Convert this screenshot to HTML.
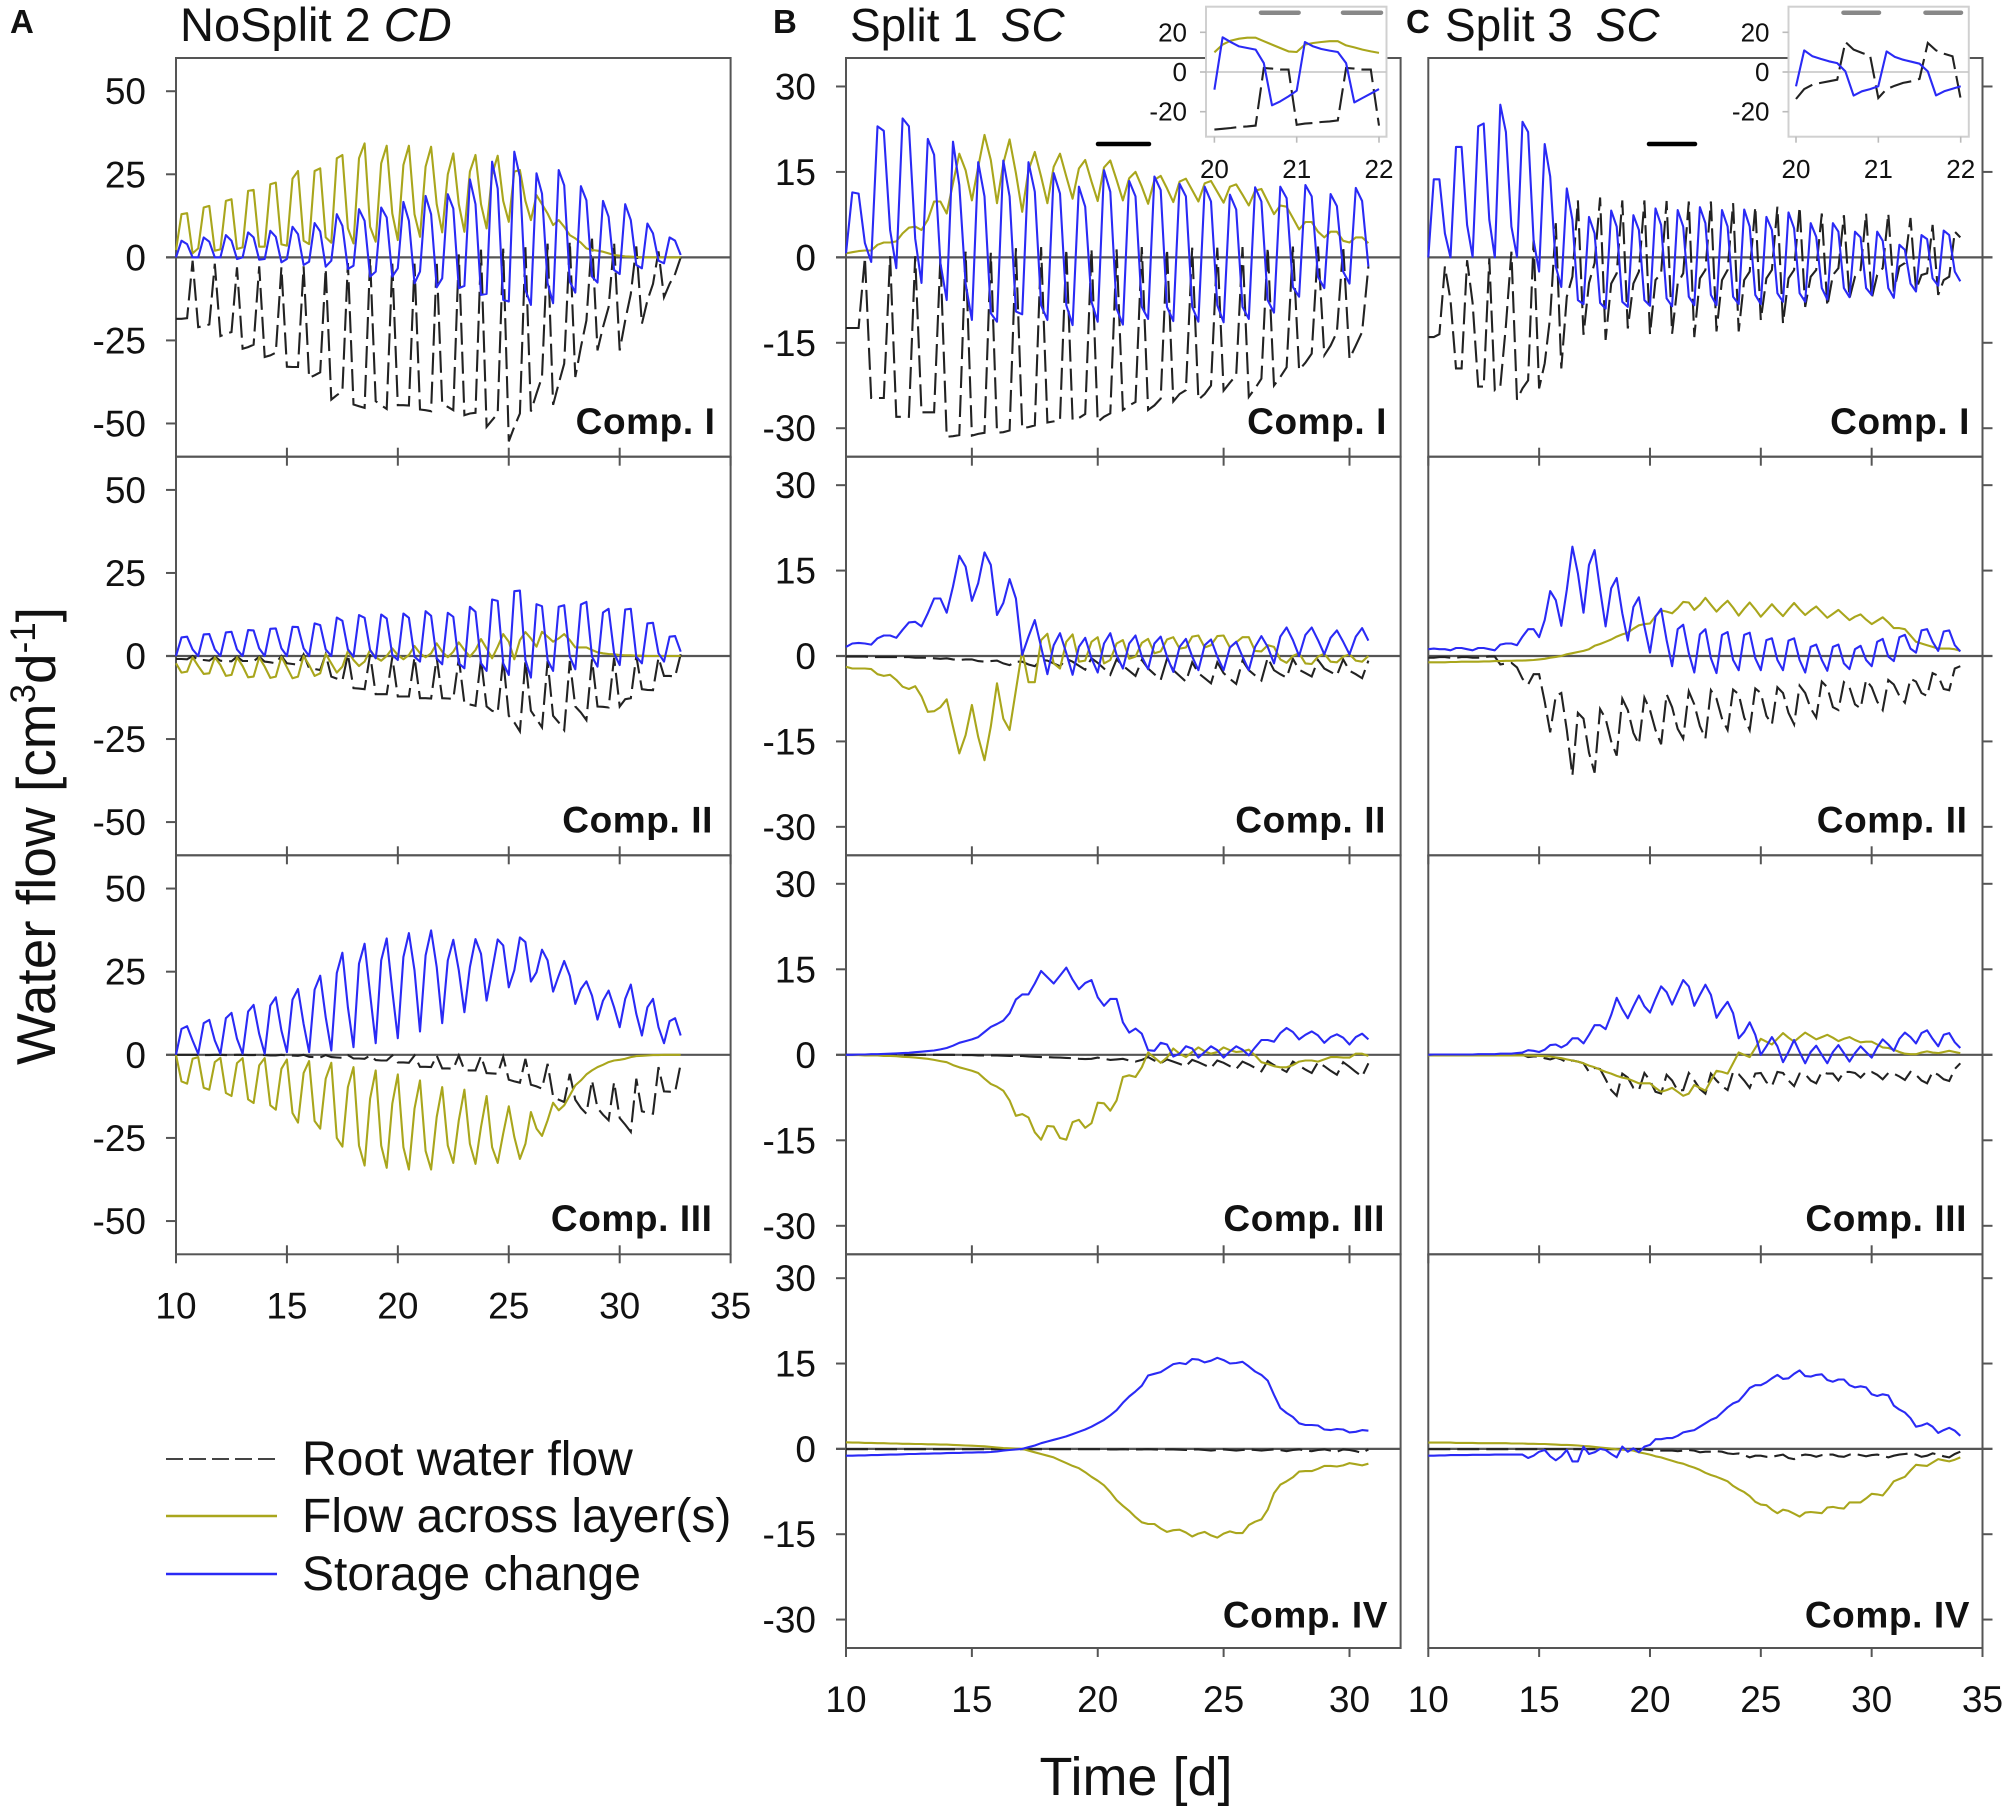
<!DOCTYPE html>
<html lang="en">
<head>
<meta charset="utf-8">
<title>Water flow per compartment</title>
<style>
html,body{margin:0;padding:0;background:#fff}
svg{display:block}
text{font-family:"Liberation Sans",sans-serif;fill:#111}
</style>
</head>
<body>
<svg id="figure" xmlns="http://www.w3.org/2000/svg" width="2008" height="1812" viewBox="0 0 2008 1812">
<rect x="0" y="0" width="2008" height="1812" fill="#fff"/>
<g id="plots"></g>
<text x="10" y="33" font-size="33" font-weight="700">A</text>
<text x="773" y="33" font-size="33" font-weight="700">B</text>
<text x="1406" y="33" font-size="33" font-weight="700">C</text>
<text x="180" y="41" font-size="47">NoSplit 2 <tspan font-style="italic">CD</tspan></text>
<text x="850" y="41" font-size="46">Split 1  <tspan dx="10" font-style="italic">SC</tspan></text>
<text x="1445" y="41" font-size="46">Split 3  <tspan dx="10" font-style="italic">SC</tspan></text>
<text transform="translate(55,836) rotate(-90)" text-anchor="middle" font-size="55">Water flow [cm<tspan font-size="35" dy="-20">3</tspan><tspan dy="20">d</tspan><tspan font-size="35" dy="-20">-1</tspan><tspan dy="20">]</tspan></text>
<text x="1136" y="1795" text-anchor="middle" font-size="54">Time [d]</text>
<g>
<line x1="166" x2="277" y1="1459" y2="1459" stroke="#444" stroke-width="2" stroke-dasharray="17 6"/>
<text x="302" y="1475" font-size="48">Root water flow</text>
<line x1="166" x2="277" y1="1516" y2="1516" stroke="#a9a61c" stroke-width="2.4"/>
<text x="302" y="1532" font-size="48">Flow across layer(s)</text>
<line x1="166" x2="277" y1="1574" y2="1574" stroke="#2a2af5" stroke-width="2.4"/>
<text x="302" y="1590" font-size="48">Storage change</text>
</g>
</svg>
<script>
// ---- Tick labels ----
const xTicksWide = [10,15,20,25,30,35];
const xTicksSplit1 = [10,15,20,25,30];
const yTicksNoSplit = [50,25,0,-25,-50];
const yTicksSplit = [30,15,0,-15,-30];
const insetXTicks = [20,21,22];
const insetYTicks = [20,0,-20];

// ---- Sampling: 4 samples per day from day 10; insets 10 samples per day from day 20 ----
const startDay = 10;
const samplesPerDay = 4;
const insetStartDay = 20;
const insetSamplesPerDay = 10;

// ---- Panel A, NoSplit 2 CD ----
const aComp1Root = [-18.5,-18.5,-18.3,-1, -21,-20.7,-20.2,-1.9, -23.7,-23,-22.5,-3, -27.5,-27,-26.3,-2.7, -30,-29.5,-28.7,-3, -32.9,-33,-33,-2.7, -36.3,-35.5,-34.6,-3.4, -42.8,-41.5,-40.3,-1.7, -44.3,-44.8,-45.3,-.4, -43.3,-44.5,-45.6,-1.9, -44.5,-44.5,-44.6,-1.9, -45.8,-46,-46.3,-1.2, -44,-45,-46,.9, -47.5,-47,-46.8,2.3, -51,-49,-47,2.6, -55.4,-51,-47,3.1, -46.4,-41,-36,4.1, -44.4,-38,-32,4.9, -36,-27,-19,5.6, -28,-21,-15,4.5, -28,-19,-11,3.3, -20,-13,-8,1.8, -12,-8,-5,0];
const aComp1Layer = [2.2,13,13.3,1.2, 2.7,15,15.5,2, 2.4,17,17.5,2.5, 3,20,20.3,3.2, 3.2,22,22.5,3.9, 3.5,23.7,26,5, 4,26,26.8,6, 4.4,29.8,30.8,8.7, 4.2,29.8,34.3,9.2, 4.7,28.3,33.6,13.2, 5.2,27.8,33.6,13, 6.2,27.3,33.3,16, 7.5,25,31.3,16, 7.7,25.8,30.8,16, 8.7,25,30.6,17, 10.7,25.8,26.3,17, 11.2,18.7,16,13.2, 9.7,11.2,9.2,6.7, 5.7,4.4,2.7,2.2, 2,1.7,1.2,.7, .5,.3,.2,.1, 0,0,0,0, 0,0,0,0];
const aComp1Storage = [0,5,4,0, 0,6,4.7,0, 0,6.7,5,-.5, 0,7.5,6,-.7, -.5,8,6.2,-1.5, -.5,9.2,7,-2.3, -1.3,10.3,7.8,-2.8, -1,13,9.5,-3.5, -2.5,14.5,11,-5.8, -4.3,15,12,-5.8, -3.3,16.7,11,-7.8, -4.3,18.5,13,-9, -6.3,19,14.7,-9.3, -8.6,23.5,16,-11.3, -11,28.8,20.7,-12.8, -13.3,31.8,24.2,-9.8, -14.3,25.3,19.2,-7.8, -13.8,26.3,21.7,-7.3, -10.6,21.4,17.2,-5.8, -7.6,17,12.2,-3.8, -5,16,11.2,-2.3, -3.3,10.2,7.2,-1, -1.8,6,5,.7];

const aComp2Root = [-.9,-.9,-1,0, -1.2,-1.2,-1.4,-.2, -1.4,-1.5,-1.6,-.2, -1.5,-1.5,-1.6,-.2, -1.7,-1.9,-2.2,0, -2.2,-2.4,-2.6,.5, -3.7,-3.9,-4.2,.5, -6.2,-6.8,-7.4,.5, -9.7,-9.8,-10,.5, -11.5,-11.5,-11.5,-.4, -12.2,-12.2,-12.2,-.4, -12.7,-12.7,-12.8,-.5, -12.7,-12.8,-12.9,-.7, -14.2,-14.6,-15,-1, -15.2,-16.5,-17,-1, -18,-20,-22.7,-1.5, -16.5,-19,-21.5,-1.5, -18,-20,-22.3,-1.5, -15.2,-17,-19.3,-1, -15.2,-15.3,-15.5,-.5, -15.2,-13,-12.7,0, -10,-10.2,-10.3,-.5, -6,-6,-6.2,.5];
const aComp2Layer = [-2.2,-5,-4.7,-.4, -3,-5.4,-5.2,-.4, -2.7,-6,-5.7,-.4, -3,-6.4,-6.2,-.4, -3.2,-6.6,-6.2,-.2, -3.4,-6.7,-6.2,0, -2.7,-6,-5.2,.6, -2.2,-5,-3.2,1.5, -1.2,-3,-1.7,1.8, -.4,-1.4,0,2.3, .3,-1,.3,3, .8,-.4,.8,3.8, 1.3,-.4,1.3,4.1, 1.8,-.2,1.8,5.1, 2.3,-.7,2.8,6.6, 4.3,-1,4.8,7.2, 5.3,2.8,7.3,5.8, 4.3,5.3,6.6,4.8, 2.6,2.6,2.6,1.8, 1.1,.8,.6,.5, .3,.2,.2,.1, .1,0,0,0, 0,0,0,0];
const aComp2Storage = [0,5.6,5.8,2, 0,6.5,6.6,2, 0,7.1,7.3,2, 0,7.8,7.7,2.3, 0,8.2,8.3,2.3, 0,8.8,8.7,2.3, 0,9.8,9.3,2, 0,11.6,10.6,2, -.2,12.3,11.5,1.8, -.7,12.5,11.3,.3, -1.2,12.8,11.5,-.2, -1.7,13.5,12.1,-.7, -2.5,13,11.8,-2.2, -3.7,14.8,13.3,-2.2, -4.5,17,16.6,-2.2, -5.7,19.5,19.7,-1.2, -6.5,15.6,15,-1.2, -4.5,14.8,15.3,-.2, -4,15.5,16.3,-.2, -3.2,13.1,14.2,.8, -2.7,14,14.2,-.2, -2.2,9.8,10,.8, -1.7,5.8,6,1.3];

const aComp3Root = [0,0,0,0, 0,-.1,-.1,0, 0,-.1,-.1,0, 0,-.1,-.1,0, -.1,-.2,-.2,0, -.2,-.25,-.3,0, -.6,-.7,-.8,-.1, -.7,-.8,-.9,-.1, -1.1,-1.1,-1.2,-.2, -1.6,-1.7,-1.7,-.2, -2.3,-2.3,-2.4,-.2, -3.6,-3.6,-3.7,-.2, -4.1,-4.1,-4.2,-.2, -4.6,-4.7,-4.7,-.4, -5.5,-5.6,-5.7,-.6, -7.5,-8,-8.4,-1.2, -9,-9.5,-10.2,-2.7, -12.5,-13.5,-14.2,-5.7, -13.5,-16,-17.7,-7.7, -16,-18,-19.7,-8.2, -19,-21,-23.2,-7.2, -17,-17.4,-17.7,-3.7, -11,-11.1,-11.2,-2.7];
const aComp3Layer = [0,-8,-8.7,-1.2, -.7,-9.9,-10.5,-2.2, -.9,-11.5,-12.4,-2.5, -1,-13.4,-14.5,-3.2, -1,-15.2,-16.5,-4.2, -1.4,-17.5,-20.4,-5.5, -1.9,-19.9,-22.2,-7.2, -2.4,-25,-27.6,-9.7, -3.7,-27.3,-33.3,-13.2, -4.7,-27.3,-34,-14.7, -5.9,-27.8,-34.5,-16.2, -7.7,-28.9,-34.5,-18.7, -9.7,-27.3,-32.5,-19.7, -10.5,-26.8,-32.8,-21.7, -12.4,-27.8,-32.5,-23.7, -15.5,-24.7,-31.3,-26.8, -17.2,-22.2,-24.4,-19.7, -14.4,-16.7,-15.2,-12.2, -9.2,-7.7,-5.9,-4.7, -3.7,-3,-2.2,-1.7, -1.5,-1.2,-.7,-.4, -.3,-.2,-.1,-.1, 0,0,0,0];
const aComp3Storage = [0,7.8,8.6,4.3, .3,9.5,10.5,4.3, .3,11,12.6,4.8, .3,13,15,6.3, .3,14.8,17.3,7.3, .8,16.6,19.8,9.3, .8,19.6,23.8,11.3, 1.3,24.6,30.7,14.3, 2.3,27.4,33.4,18.3, 3.5,28.4,35,19.3, 5,29.4,36.6,25.4, 7,29.9,37.4,26.4, 9.5,28.4,34.6,25.4, 12.8,26.4,34.8,30.4, 16.3,25.4,34.7,32.9, 20.3,25.4,35.3,33.9, 22,24.8,31.6,28.4, 19,23.8,28.2,23.8, 15.3,19.8,22.1,17.8, 10.6,16.3,19.3,14.3, 8.3,16.8,21.1,12.3, 5.8,14.3,16.8,8.3, 3.5,10.1,11,5.8];

// ---- Panel B, Split 1 SC ----
const bComp1Root = [-12.4,-12.4,-12.4,0, -24.7,-24.7,-24.7,.2, -28,-28,-28,.2, -27.2,-27.2,-27.2,0, -31.5,-31.4,-31.2,1, -31.3,-31,-30.8,.8, -30.8,-30.7,-30.4,1.6, -30,-29.8,-29.5,1.8, -29,-28.8,-28.6,1.5, -28.5,-28.2,-27.5,1.5, -28.9,-28,-27.4,1.4, -26.8,-26,-25.4,1.8, -26.8,-26,-24.8,1.5, -25.3,-24,-23.3,1.7, -25,-24,-22.5,1.7, -23.4,-22,-20.7,1.8, -24.5,-23,-21.3,1.8, -22.5,-21,-19.3,1.9, -19.8,-18.5,-16.9,1.9, -17.2,-15.5,-13.1,2, -17.8,-15.5,-13.1,-1.6];
const bComp1Layer = [.7,.9,1.1,1.2, 1.2,2.2,2.6,2.6, 2.8,4.2,5.2,5.4, 4.8,6.6,9.8,9.8, 7.7,13,18.2,15.3, 10,15.9,21.5,17.1, 9.5,16.5,20.7,14.8, 8,15.3,18.5,14.2, 9.5,15.9,18.2,14.2, 10.3,15.6,17.1,13.3, 9.9,15.8,17,13.6, 10,13.9,15,12.4, 9.4,13.6,14.3,12.1, 9.7,13.3,13.8,11.8, 9.8,13,13.4,11.5, 9.6,12.4,12.8,11, 9.1,11.7,12,9.8, 7.6,9.1,8.9,6.9, 4.9,6.2,6.2,4.5, 3.5,4.5,4.5,2.9, 2.6,3.5,3.5,2.5];
const bComp1Storage = [.7,11.4,11.2,2.5, -.8,23,22.2,4.8, -1.9,24.4,23,3.3, -4.5,20.8,18,-1, -7.5,20.3,12.7,-4.6, -11,16.7,10.7,-9.8, -11.3,17,10.7,-9.5, -10,16.7,11.5,-8.4, -11,14.8,11.2,-8.4, -11.9,12.4,8.9,-7.8, -11.3,15.3,11.5,-9, -11.8,13.4,10.7,-8.7, -10.8,14.2,11.8,-8.7, -11.2,12.9,10.7,-8.7, -11.3,12.4,9.8,-8.4, -11.4,11,8.4,-8.7, -10.8,12.3,9.8,-7.5, -9.7,12.4,10.4,-5.2, -6.9,12.7,10.7,-3.4, -5.4,11.1,9,-2.5, -4.6,12.2,9.9,-1.6];

const bComp2Root = [-.1,-.1,-.1,-.1, -.2,-.2,-.2,-.2, -.2,-.2,-.2,-.3, -.3,-.3,-.4,-.5, -.4,-.6,-.7,-.6, -.6,-.9,-1,-.9, -.8,-1.3,-1.6,-1, -1,-1.5,-1.8,-.7, -.8,-1.3,-1.8,-.5, -1,-1.7,-2.4,-.4, -1.2,-2.2,-3.3,-.6, -1.7,-2.6,-3.5,-.7, -2.2,-3.2,-4.2,-.5, -2.5,-3.5,-4.5,-1.1, -3,-3.9,-4.8,-1.1, -3,-4,-4.9,-.8, -2.5,-3.4,-4.3,-.3, -2.5,-3.2,-3.8,-.5, -2.4,-3,-3.6,-.7, -2.2,-2.8,-3.4,-.6, -2.6,-3.2,-3.9,-.8];
const bComp2Layer = [-1.9,-2.2,-2.2,-2.2, -2.3,-3.2,-3.5,-3.3, -4.2,-5.4,-5.8,-5.3, -7.1,-9.8,-9.7,-9, -7.6,-12.4,-17.1,-13.9, -8.6,-14.2,-18.3,-12.4, -4.8,-11,-13,-6, 1,-4.6,-4.6,2.8, 3.9,-1.3,-2.2,2.5, 3.8,-1,-.8,2.5, 3.3,-1.3,-.7,2.2, 2.8,-.5,-.1,2.3, 3,.5,.8,2.9, 3.3,1.3,1.5,3.4, 3.6,1.5,1.9,3.5, 3.6,1.5,2.4,3.3, 3.3,.9,.8,1.9, 1.6,-.6,-1.2,0, .5,-1.3,-1.4,-.1, .4,-1,-1.1,-.1, .3,-.8,-1,0];
const bComp2Storage = [1.6,2.2,2.3,2.2, 2,3.1,3.6,3.6, 3.2,4.6,5.9,6, 5.2,7.5,10.1,10.1, 7.6,12.2,17.6,15.7, 9.7,12.8,18.2,16, 7.2,9.3,13.5,10.1, .2,3.4,6.3,1.6, -3.2,1.9,4,.5, -3.3,1.6,3.2,-.4, -2.9,2.2,4,.2, -2.2,2.2,3.6,-.1, -2.3,2.2,3.4,-.1, -2.8,1.6,3,-.1, -2.5,1.9,2.9,-.1, -2.5,1.5,2.5,-.1, -2.5,1.6,3.5,1.6, -1.3,3.4,5,2.8, 0,3.7,5,2.8, .3,3.2,4.5,2.5, .3,3.4,4.9,2.7];

const bComp3Root = [0,0,0,0, 0,0,0,0, 0,0,0,0, 0,0,0,0, 0,0,-.05,-.05, -.05,-.1,-.1,-.1, -.1,-.15,-.2,-.2, -.2,-.3,-.35,-.4, -.4,-.45,-.5,-.55, -.6,-.7,-.75,-.7, -.5,-.7,-.9,-.8, -.7,-1,-1.2,-.9, -.4,-1,-1.5,-.8, -1.2,-1.6,-2,-.9, -1.3,-1.8,-2.3,-1, -1.4,-2,-2.5,-1.2, -1.7,-2.3,-2.9,-1.1, -1.8,-2.4,-3,-1.2, -1.9,-2.6,-3.2,-1.3, -2,-2.8,-3.5,-1.3, -2.1,-3,-3.8,-1.5];
const bComp3Layer = [-.05,-.05,-.05,-.1, -.1,-.1,-.2,-.2, -.25,-.35,-.4,-.5, -.6,-.7,-.9,-1.1, -1.3,-1.8,-2.2,-2.5, -2.8,-3.2,-4.2,-5.1, -5.6,-6.3,-8,-10.7, -10.4,-11,-13.6,-14.9, -12.5,-12.6,-14.6,-14.9, -11.8,-11.4,-12.8,-12, -8.4,-8.5,-9.8,-8, -3.9,-3.6,-3.9,-2.2, .4,-.5,-1.4,-.5, 1.1,.2,-.4,.5, 1.3,.6,.2,.5, 1.3,.8,.5,.6, .9,-.1,-1.3,-1.6, -2,-2.2,-2.2,-1.8, -1.2,-1,-1,-1.2, -.8,-.4,-.4,-.5, -.5,.2,.2,-.2];
const bComp3Storage = [0,0,.05,.05, .1,.1,.15,.2, .25,.3,.35,.45, .55,.65,.75,.95, 1.2,1.6,2.1,2.4, 2.7,3.1,4,4.9, 5.4,6,7.3,9.7, 10.6,10.6,12.5,14.7, 13.6,12.5,13.9,15.3, 13.2,11.5,12.6,13.1, 10.1,8.6,9.8,9.8, 5.7,3.9,4.6,3.7, .8,.7,2.1,1.8, -.3,.2,1.5,1.1, -.5,.5,1.5,.8, -.5,.6,1.5,.9, -.1,1.3,2.6,2.6, 2.3,3.8,4.7,4, 2.7,3.5,4.1,3.4, 2.1,3.1,3.6,3, 1.8,3.1,3.7,2.7];

const bComp4Root = [-.05,-.05,-.05,-.05, -.05,-.05,-.05,-.05, -.05,-.05,-.05,-.05, -.05,-.05,-.05,-.05, -.05,-.05,-.05,-.05, -.05,-.05,-.05,-.05, -.05,-.05,-.05,-.05, -.05,-.05,-.05,-.05, -.05,-.05,-.05,-.05, -.05,-.05,-.05,-.05, -.05,-.05,-.1,-.1, -.05,-.1,-.1,-.1, -.05,-.1,-.15,-.1, -.1,-.15,-.2,-.1, -.1,-.2,-.3,-.2, -.1,-.2,-.3,-.2, -.1,-.2,-.3,-.2, -.1,-.2,-.4,-.2, -.1,-.3,-.4,-.2, -.1,-.3,-.5,-.1, -.2,-.4,-.7,-.1];
const bComp4Layer = [1.15,1.1,1.1,1.05, 1.05,1,1,.95, .95,.9,.9,.85, .85,.8,.8,.75, .75,.7,.65,.6, .55,.5,.45,.35, .25,.15,.1,.05, 0,-.3,-.6,-.9, -1.2,-1.5,-2,-2.5, -3,-3.4,-4.1,-4.9, -5.6,-6.4,-7.6,-9, -10,-10.9,-12,-12.9, -13.2,-13.2,-14,-14.6, -14.3,-14.2,-14.7,-15.4, -14.9,-14.6,-15.2,-15.6, -14.9,-14.5,-14.8,-14.8, -13.4,-12.8,-12.4,-10.7, -7.8,-6.3,-5.7,-5, -4,-3.9,-3.9,-3.5, -3,-3,-3.1,-2.9, -2.5,-2.7,-2.9,-2.6];
const bComp4Storage = [-1.2,-1.2,-1.15,-1.15, -1.1,-1.1,-1.05,-1, -1,-.95,-.9,-.9, -.85,-.85,-.8,-.8, -.75,-.7,-.7,-.65, -.65,-.6,-.6,-.55, -.45,-.3,-.2,-.1, 0,.3,.6,1, 1.3,1.6,1.9,2.2, 2.6,3,3.4,3.9, 4.5,5.1,5.9,6.8, 8.1,9.2,10.1,11.1, 12.9,13.2,13.5,14.2, 14.9,15.1,14.9,15.8, 15.7,15.2,15.5,16, 15.6,15,15.1,15.3, 14.5,13.6,13,12, 9.5,7.2,6.3,5.6, 4.5,4.2,4.2,4.1, 3.4,3.3,3.5,3.4, 2.9,3,3.3,3.2];

// ---- Panel C, Split 3 SC ----
const cComp1Root = [-14,-14,-13.5,-1.6, -7.5,-19.5,-19.5,-.5, -8,-22.7,-22.7,-.2, -23.3,-22.7,-12,1, -25,-23,-21.6,3, -23,-18.6,-10.4,6, -19.5,-6.9,-3.4,10, -13.6,-4.5,-1,10.5, -14.5,-4.6,-2.8,10, -12.5,-4.6,-2.5,10, -13.5,-4,-2.8,9.9, -13.4,-4.6,-2.8,9.8, -14,-3.7,-2.2,9.8, -13,-4,-2.2,9.5, -13,-4,-2.5,8.9, -11,-3.7,-2.2,8.9, -11.6,-3.7,-2.2,8.9, -8.7,-3.4,-2.2,7.7, -8.6,-3.1,-1.9,7.4, -7.2,-3.4,-2.2,7.7, -7.2,-3.1,-1.9,7.7, -6,-1.6,-1,6.9, -5.7,-3.1,-2.8,5.7, -6.6,-4,-3.4,4.5, 3.5];
const cComp1Layer = [];
const cComp1Storage = [0,13.7,13.7,4.2, 0,19.4,19.4,5.7, .1,23,23.5,6.6, 0,26.8,22,5.4, .1,23.8,22,3, -2.5,19.9,14.2,-1.6, -5.2,12.1,6.6,-7.5, -8.2,7.1,4.2,-8, -9,8.2,5.4,-7.8, -8.7,7.4,4.8,-7.5, -8.5,8.6,5.7,-7.2, -8.6,8.3,5.4,-6.9, -8.4,8.8,6,-6.6, -8.4,8.3,5.4,-6.9, -8.2,8.4,5.4,-6.6, -8.2,7.1,4.8,-6.3, -7.8,7.9,5.1,-6.3, -7.8,6,3.6,-5.4, -7.4,6,4.5,-5.4, -7,4.5,3.5,-5.4, -6.6,4.5,2.9,-5.4, -7.1,2.2,1.3,-4.6, -6,3.9,3.2,-3.7, -5,4.7,3.9,-2.5, -4.2];

const cComp2Root = [-.3,-.3,-.2,-.2, -.3,-.3,-.2,-.2, -.3,-.3,-.2,-.1, -.1,-1.5,-1.3,-1.2, -2,-4,-5,-3.2, -3.2,-8,-13.4,-7, -6.5,-13,-21,-10, -11,-17,-20.5,-9.3, -11,-15,-17.5,-7.5, -9.5,-13.5,-15.5,-7.3, -9.5,-13,-15.5,-6.7, -9,-12.8,-14.5,-6.2, -8.5,-12.3,-14.5,-6, -7.5,-11,-13,-5.9, -6.7,-10.8,-13,-5.7, -6.5,-10.5,-12,-5.5, -6.5,-10,-12,-5.2, -6.5,-9.2,-10.8,-4.5, -5.5,-9,-9.5,-4.6, -5.5,-8.5,-9.2,-4.2, -5.5,-8,-9.5,-4.2, -5,-7,-8.2,-4, -4.5,-6.5,-7,-3, -3.5,-5.8,-6,-2.2, -1.8];
const cComp2Layer = [-1.1,-1.1,-1.1,-1.1, -1.05,-1.05,-1,-1, -1,-1,-.95,-.95, -.9,-.9,-.85,-.85, -.8,-.8,-.75,-.7, -.6,-.5,-.3,-.15, 0,.3,.5,.7, .9,1.2,1.8,2.1, 2.5,2.9,3.4,3.8, 4.1,4.8,5.4,5.6, 5.7,7,8,7.8, 7.5,8.4,9.5,9.4, 8.1,9,10.2,9, 7.8,8.8,9.7,8.5, 7.1,8.3,9.4,8.2, 6.9,8,9.1,8, 7,8.2,9.3,8.2, 7.2,8,8.7,7.7, 6.7,7.4,8.1,7.2, 6.3,6.9,7.3,6.4, 5.6,6.2,6.8,5.9, 4.9,4.9,4.7,3.6, 2.5,2.2,1.9,1.6, 1.3,1.3,1.3,1.2, .9];
const cComp2Storage = [1.2,1.3,1.2,1.2, 1,1.4,1.4,1.2, 1,1.4,1.4,1.2, 1,2,2.2,2.2, 1.9,3.4,4.7,4.7, 3.3,6.3,11.4,9.8, 5.3,11.6,19.2,14.5, 7.6,16,18.6,11.6, 5.2,11.9,13.7,7.5, 2.7,8.6,10.3,5.2, .6,6.9,8.3,2.8, -1.8,4.7,5.5,.5, -2.9,3.8,4.7,-.4, -3,3.7,4.2,-.7, -2.5,3.7,4.1,-.4, -2.5,2.8,3.1,-.7, -2.5,2.7,3.1,-.7, -2.9,1.6,2,-.7, -2.6,1.6,2,-1.3, -2.3,1.2,1.8,-.7, -1.8,2.5,3,-.1, -.9,3.3,3.7,1.3, .6,4.5,4.7,2.5, .9,4.3,4.5,1.9, .8];

const cComp3Root = [0,0,0,0, 0,0,0,0, 0,0,0,0, 0,0,0,0, 0,0,-.4,-.3, -.3,-.6,-.8,-.5, -.8,-1.3,-1,-1.2, -1.5,-3,-2.3,-2.5, -4.3,-6.2,-7.2,-3.3, -4,-5.8,-6.2,-3.2, -4.5,-6.5,-6.8,-3.5, -4.5,-6.3,-6.2,-3.2, -4.5,-6,-6.8,-3.3, -4.5,-5.5,-6.2,-3, -3.4,-4.5,-5.8,-3.3, -3.2,-4.8,-5.5,-3, -3.2,-4.5,-5.5,-3.3, -3.4,-4.5,-5,-3, -3.3,-3.3,-4.5,-3, -3,-3.2,-4,-3, -3,-3.5,-4.3,-3.2, -3.3,-3.8,-4.4,-3, -3.5,-4.5,-5,-3, -3.5,-4.3,-4.6,-2.5, -1.5];
const cComp3Layer = [-.1,-.1,-.1,-.1, -.1,-.1,-.1,-.1, -.1,-.1,-.1,-.1, -.1,-.1,-.1,-.1, -.1,-.1,-.15,-.15, -.2,-.25,-.3,-.45, -.6,-.8,-1,-1.2, -1.5,-1.9,-2.2,-2.6, -3,-3.3,-3.7,-4, -4.2,-4.6,-5,-5, -5,-5.8,-6.5,-6.2, -5.8,-6.5,-7.2,-6.8, -5.3,-5.8,-6.3,-4.5, -2.8,-3,-3.3,-1.5, .4,0,-.4,1.2, 2.8,2.3,1.8,2.8, 3.8,3,2.3,3.1, 3.9,3.3,2.7,3.1, 3.5,3,2.4,2.8, 3.1,2.6,2.2,2.3, 2.3,1.8,1.3,1.2, .9,.5,.2,.1, .1,.4,.6,.4, .3,.5,.7,.5, .3];
const cComp3Storage = [0,.05,.05,.05, .05,.05,.05,.05, .05,.1,.1,.1, .1,.2,.2,.2, .3,.4,.8,.7, .5,.9,1.7,1.8, 1.3,1.8,2.9,2.9, 2,3.5,5.2,5.2, 4.5,7,10,8, 6.4,8.5,10.4,8.5, 7.4,9.8,12,11, 8.8,11,13.1,12, 8.6,10.5,12.3,10.5, 6.5,8,9.3,7.3, 2.9,4,5.7,3.5, 0,1.5,3.1,1.5, -1.3,.5,2.6,.5, -1.5,.5,1.6,0, -1.5,.5,1.7,.3, -1.2,.3,1.5,.5, -.5,1.3,2.7,1.8, .7,2.8,3.9,3.1, 2,3.8,4.3,2.8, 1.5,3.5,3.8,2.2, 1.2];

const cComp4Root = [-.05,-.05,-.05,-.05, -.05,-.05,-.05,-.05, -.05,-.05,-.05,-.05, -.05,-.05,-.05,-.05, -.05,-.05,-.05,-.05, -.05,-.05,-.05,-.05, -.05,-.05,-.05,-.05, -.05,-.05,-.05,-.05, -.05,-.05,-.05,-.05, -.05,-.05,-.05,-.1, -.2,-.3,-.3,-.3, -.3,-.4,-.3,-.2, -.3,-.6,-.5,-.5, -.4,-.5,-.8,-.9, -.8,-1.1,-1.5,-1.2, -1.2,-1.4,-1.4,-1.2, -1,-1.6,-1.8,-1.2, -1,-1.1,-1.4,-1.1, -1,-1,-1.3,-1.4, -1,-.9,-1.1,-1.3, -1.1,-1,-1.2,-1.5, -1.2,-1,-.9,-.8, -1,-1.4,-1.2,-.8, -1,-1.3,-1.5,-.9, -.5];
const cComp4Layer = [1.1,1.1,1.1,1.1, 1.1,1.05,1.05,1.05, 1.05,1,1,1, 1,1,1,.95, .95,.95,.9,.9, .85,.85,.8,.75, .7,.7,.65,.6, .5,.45,.35,.25, .15,.05,-.05,-.15, -.2,-.3,-.6,-.8, -1,-1.3,-1.5,-1.8, -2.1,-2.4,-2.6,-3, -3.3,-3.7,-4.2,-4.6, -4.9,-5.3,-5.7,-6.5, -7.1,-7.6,-8.3,-9.3, -9.8,-9.9,-10.7,-11.3, -10.7,-10.9,-11.4,-11.9, -11.2,-11.1,-11.2,-11.3, -10.3,-10.2,-10.4,-10.5, -9.4,-9.4,-9.4,-8.7, -7.9,-8,-8.2,-7, -5.7,-5.3,-4.9,-3.8, -2.8,-2.9,-3,-2.4, -1.8,-2,-2.2,-1.9, -1.5];
const cComp4Storage = [-1.2,-1.2,-1.15,-1.15, -1.1,-1.1,-1.1,-1.1, -1.05,-1.05,-1.05,-1.05, -1,-1,-1,-1, -1,-1,-1.6,-1.2, -.5,-.2,-1.3,-2, -1.3,-.2,-2.2,-2.2, .4,-.9,-.6,0, -.2,-.9,-1.5,.4, -.5,.1,-.6,.4, .7,1.7,1.7,1.9, 1.9,2.3,2.9,3.1, 3.3,3.9,4.5,5.1, 5.5,6.4,7.3,8, 8.4,9.5,10.7,11.2, 11.2,11.7,12.4,13, 12.3,12.4,13.2,13.8, 12.8,12.7,13,13.1, 12.1,11.8,12.2,12.2, 11.2,10.8,11,10.8, 9.6,9.3,9.6,9.4, 7.6,6.9,6.4,5.4, 3.9,4.1,4.5,3.9, 2.8,3.3,3.7,3.2, 2.3];

// ---- Insets, days 20 to 22 ----
const bInsetRoot = [-29,-28.6,-28.2,-27.7,-27.4,-27,2,1.7,1.2,1.2,-26.6,-26,-25.7,-25.2,-24.9,-24.4,2,1.7,1.2,1.2,-27];
const bInsetLayer = [9.9,13.8,15.8,16.8,17.3,17.3,15.5,13.8,12.1,10.4,10.1,13.8,14.6,15.1,15.5,15.5,13.4,12.4,11.3,10.4,9.6];
const bInsetStorage = [-8.9,17.5,15,12.9,12.1,11.3,4.5,-16.8,-14.8,-12.3,-9.4,15.1,12.9,11.6,10.8,10.1,4.5,-15.3,-13.1,-10.9,-8.6];
const cInsetRoot = [-13.6,-8.6,-6.4,-5.5,-4.7,-3.9,15.1,11.3,9.6,8.2,-13.1,-8.6,-6.9,-5.5,-4.7,-3.5,14.6,10.9,9.2,7.9,-13.6];
const cInsetLayer = [];
const cInsetStorage = [-7.2,10.9,7.9,6.6,5.4,4.5,.3,-11.9,-9.7,-8.6,-7.2,10.4,7.6,6.2,5.2,4.2,.3,-11.8,-9.7,-8.4,-7.2];

// ---- Drawing ----
const NS = 'http://www.w3.org/2000/svg';
const ROOT_COLOR = '#222';
const LAYER_COLOR = '#a9a61c';
const STORAGE_COLOR = '#2a2af5';
const AXIS_COLOR = '#555';
const plots = document.getElementById('plots');

function make(tag, attrs, parent) {
  const node = document.createElementNS(NS, tag);
  for (const k in attrs) node.setAttribute(k, attrs[k]);
  parent.appendChild(node);
  return node;
}
function scale(d0, d1, r0, r1) {
  return function (v) { return r0 + (v - d0) * (r1 - r0) / (d1 - d0); };
}
function linePath(values, x, y, first, perDay) {
  let s = '';
  values.forEach(function (v, i) {
    s += (i ? 'L' : 'M') + x(first + i / perDay).toFixed(1) + ' ' + y(v).toFixed(1);
  });
  return s;
}
function drawSeries(parent, prefix, root, layer, storage, x, y, first, perDay, width) {
  if (root.length) {
    const p = make('path', {d: linePath(root, x, y, first, perDay), fill: 'none', stroke: ROOT_COLOR, 'stroke-width': width, 'stroke-dasharray': '22 7'}, parent);
    
    
  }
  if (layer.length) {
    const p = make('path', {d: linePath(layer, x, y, first, perDay), fill: 'none', stroke: LAYER_COLOR, 'stroke-width': width, 'stroke-linejoin': 'round'}, parent);
    
    
  }
  if (storage.length) {
    const p = make('path', {d: linePath(storage, x, y, first, perDay), fill: 'none', stroke: STORAGE_COLOR, 'stroke-width': width, 'stroke-linejoin': 'round'}, parent);
    
    
  }
}

function drawPanel(cfg) {
  const g = make('g', {}, plots);
  
  
  const x = scale(cfg.xMin, cfg.xMax, cfg.left, cfg.right);
  const y = scale(cfg.yTop, cfg.yBottom, cfg.top, cfg.bottom);

  const frame = make('rect', {x: cfg.left, y: cfg.top, width: cfg.right - cfg.left, height: cfg.bottom - cfg.top, fill: 'none', stroke: AXIS_COLOR, 'stroke-width': 2}, g);
  
  

  // y ticks
  cfg.yTicks.forEach(function (t) {
    const px = y(t);
    const x1 = cfg.tickSide === 'left' ? cfg.left - 10 : cfg.right;
    const x2 = cfg.tickSide === 'left' ? cfg.left : cfg.right + 10;
    const tick = make('line', {x1: x1, x2: x2, y1: px, y2: px, stroke: AXIS_COLOR, 'stroke-width': 2}, g);
    
    
    if (cfg.labelY) {
      const lab = make('text', {x: cfg.left - 30, y: px + 13, 'text-anchor': 'end', 'font-size': 37}, g);
      lab.textContent = String(t);
      
      
    }
  });

  // zero line
  const z = make('line', {x1: cfg.tickSide === 'left' ? cfg.left - 10 : cfg.left, x2: cfg.tickSide === 'left' ? cfg.right : cfg.right + 10, y1: y(0), y2: y(0), stroke: AXIS_COLOR, 'stroke-width': 2.2}, g);
  
  

  // x ticks on the lower edge
  cfg.xTicks.forEach(function (t, i) {
    const px = x(t);
    const corner = i === 0 || t === cfg.xMax;
    const up = (corner || cfg.lastRow) ? 0 : 9;
    const tick = make('line', {x1: px, x2: px, y1: cfg.bottom - up, y2: cfg.bottom + 9, stroke: AXIS_COLOR, 'stroke-width': 2}, g);
    
    
    if (cfg.labelX) {
      const lab = make('text', {x: px, y: cfg.bottom + cfg.labelXOffset, 'text-anchor': 'middle', 'font-size': 37}, g);
      lab.textContent = String(t);
      
      
    }
  });

  drawSeries(g, cfg.id, cfg.root, cfg.layer, cfg.storage, x, y, startDay, samplesPerDay, 2.1);

  const comp = make('text', {x: cfg.compRight, y: cfg.compBase, 'text-anchor': 'end', 'font-size': 37, 'font-weight': 700, 'letter-spacing': '0.6'}, g);
  comp.textContent = cfg.comp;
  
  
}

function drawInset(cfg) {
  const g = make('g', {}, plots);
  
  
  const x = scale(20, 22, cfg.x20, cfg.x22);
  const y = scale(20, -20, cfg.y20, cfg.yNeg20);

  const box = make('rect', {x: cfg.left, y: cfg.top, width: cfg.right - cfg.left, height: cfg.bottom - cfg.top, fill: '#fff', stroke: '#d0d0d0', 'stroke-width': 2}, g);
  
  

  const zero = make('line', {x1: cfg.left, x2: cfg.right, y1: y(0), y2: y(0), stroke: '#c4c4c4', 'stroke-width': 1.6}, g);
  
  

  insetYTicks.forEach(function (t) {
    const tick = make('line', {x1: cfg.left - 6, x2: cfg.left, y1: y(t), y2: y(t), stroke: '#bbb', 'stroke-width': 1.6}, g);
    
    
    const lab = make('text', {x: cfg.left - 19, y: y(t) + 9, 'text-anchor': 'end', 'font-size': 26}, g);
    lab.textContent = String(t);
    
    
  });
  insetXTicks.forEach(function (t) {
    const tick = make('line', {x1: x(t), x2: x(t), y1: cfg.bottom, y2: cfg.bottom + 6, stroke: '#bbb', 'stroke-width': 1.6}, g);
    
    
    const lab = make('text', {x: x(t), y: 178, 'text-anchor': 'middle', 'font-size': 26}, g);
    lab.textContent = String(t);
    
    
  });

  cfg.bars.forEach(function (b, i) {
    const bar = make('line', {x1: b[0], x2: b[1], y1: 12.7, y2: 12.7, stroke: '#888', 'stroke-width': 4.5, 'stroke-linecap': 'round'}, g);
    
    
  });
  const main = make('line', {x1: cfg.mainBar[0], x2: cfg.mainBar[1], y1: 144, y2: 144, stroke: '#000', 'stroke-width': 4.5, 'stroke-linecap': 'round'}, g);
  
  

  drawSeries(g, cfg.id + '-inset', cfg.root, cfg.layer, cfg.storage, x, y, insetStartDay, insetSamplesPerDay, 2.1);
}

const rows = [[58, 456.7], [456.7, 855.3], [855.3, 1254.3], [1254.3, 1648]];
const compBase = [434, 832.5, 1231, 1627.5];

[
  {id:'a-comp-1', row:0, comp:'Comp. I', compRight:715.5, root:aComp1Root, layer:aComp1Layer, storage:aComp1Storage},
  {id:'a-comp-2', row:1, comp:'Comp. II', compRight:713, root:aComp2Root, layer:aComp2Layer, storage:aComp2Storage},
  {id:'a-comp-3', row:2, comp:'Comp. III', compRight:712.5, root:aComp3Root, layer:aComp3Layer, storage:aComp3Storage, labelX:true}
].forEach(function (p) {
  drawPanel(Object.assign({left:176, right:730.6, top:rows[p.row][0], bottom:rows[p.row][1], xMin:10, xMax:35, yTop:60, yBottom:-60, xTicks:xTicksWide, yTicks:yTicksNoSplit, tickSide:'left', labelY:true, labelXOffset:64, compBase:compBase[p.row]}, p));
});
[
  {id:'b-comp-1', row:0, comp:'Comp. I', compRight:1387, root:bComp1Root, layer:bComp1Layer, storage:bComp1Storage},
  {id:'b-comp-2', row:1, comp:'Comp. II', compRight:1386, root:bComp2Root, layer:bComp2Layer, storage:bComp2Storage},
  {id:'b-comp-3', row:2, comp:'Comp. III', compRight:1385, root:bComp3Root, layer:bComp3Layer, storage:bComp3Storage},
  {id:'b-comp-4', row:3, comp:'Comp. IV', compRight:1388, root:bComp4Root, layer:bComp4Layer, storage:bComp4Storage, labelX:true, lastRow:true, yTop:34.2}
].forEach(function (p) {
  drawPanel(Object.assign({left:846, right:1400.6, top:rows[p.row][0], bottom:rows[p.row][1], xMin:10, xMax:32.03, yTop:35, yBottom:-35, xTicks:xTicksSplit1, yTicks:yTicksSplit, tickSide:'left', labelY:true, labelXOffset:64, compBase:compBase[p.row]}, p));
});
[
  {id:'c-comp-1', row:0, comp:'Comp. I', compRight:1970, root:cComp1Root, layer:cComp1Layer, storage:cComp1Storage},
  {id:'c-comp-2', row:1, comp:'Comp. II', compRight:1967.5, root:cComp2Root, layer:cComp2Layer, storage:cComp2Storage},
  {id:'c-comp-3', row:2, comp:'Comp. III', compRight:1967, root:cComp3Root, layer:cComp3Layer, storage:cComp3Storage},
  {id:'c-comp-4', row:3, comp:'Comp. IV', compRight:1970, root:cComp4Root, layer:cComp4Layer, storage:cComp4Storage, labelX:true, lastRow:true, yTop:34.2}
].forEach(function (p) {
  drawPanel(Object.assign({left:1428.3, right:1982.5, top:rows[p.row][0], bottom:rows[p.row][1], xMin:10, xMax:35, yTop:35, yBottom:-35, xTicks:xTicksWide, yTicks:yTicksSplit, tickSide:'right', labelY:false, labelXOffset:64, compBase:compBase[p.row]}, p));
});

drawInset({id:'b', left:1206, right:1386.5, top:6.7, bottom:136.7, x20:1214.4, x22:1379, y20:32.3, yNeg20:111.7, bars:[[1261,1298.6],[1343,1381]], mainBar:[1098,1149], root:bInsetRoot, layer:bInsetLayer, storage:bInsetStorage});
drawInset({id:'c', left:1788.5, right:1968.8, top:6.7, bottom:136.7, x20:1796, x22:1960.7, y20:32.3, yNeg20:111.7, bars:[[1843.5,1879],[1925.5,1961]], mainBar:[1649,1695], root:cInsetRoot, layer:cInsetLayer, storage:cInsetStorage});
</script>
</body>
</html>
